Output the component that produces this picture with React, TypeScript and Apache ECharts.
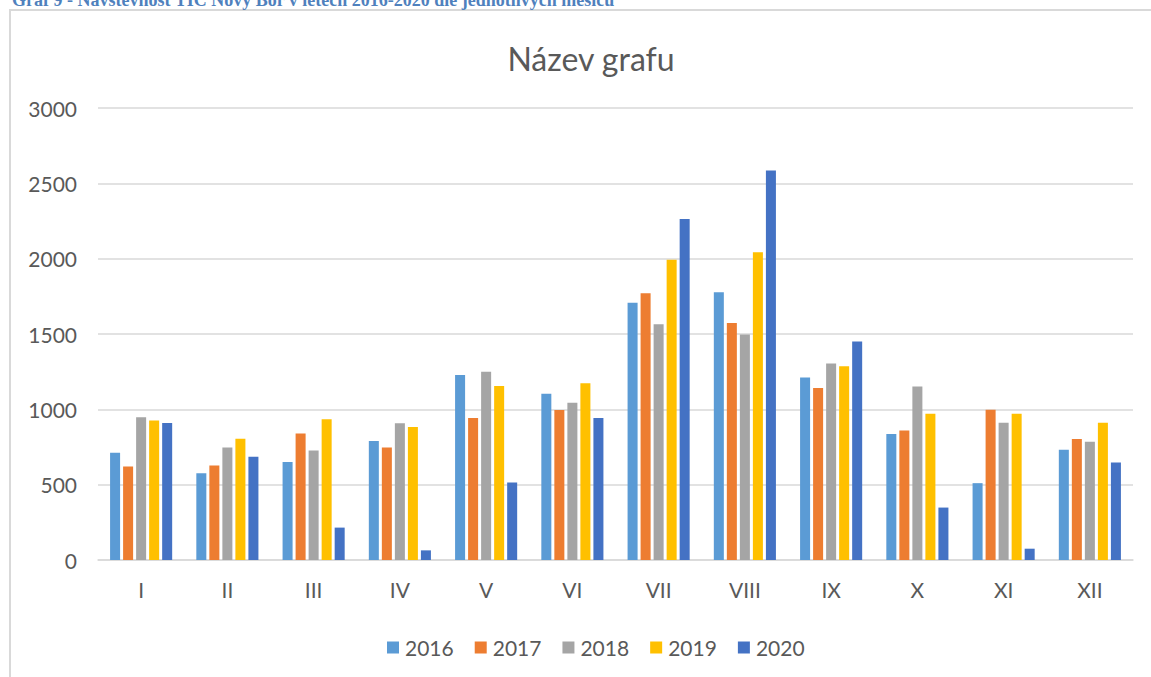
import React, { useEffect, useRef } from "react";
import * as echarts from "echarts";

const months = ["I", "II", "III", "IV", "V", "VI", "VII", "VIII", "IX", "X", "XI", "XII"];
const years = ["2016", "2017", "2018", "2019", "2020"];
const v2016 = [712, 576, 651, 789, 1228, 1104, 1708, 1777, 1211, 836, 510, 732];
const v2017 = [620, 627, 839, 746, 942, 996, 1770, 1573, 1142, 860, 998, 803];
const v2018 = [948, 746, 727, 908, 1250, 1044, 1564, 1496, 1304, 1151, 911, 785];
const v2019 = [926, 804, 934, 882, 1155, 1173, 1993, 2042, 1286, 971, 971, 911];
const v2020 = [910, 686, 215, 64, 515, 942, 2263, 2586, 1450, 348, 75, 647];
const yearValues = [v2016, v2017, v2018, v2019, v2020];
const colors = ["#5B9BD5", "#ED7D31", "#A5A5A5", "#FFC000", "#4472C4"];

const docTitle = "Graf 9 - Návštěvnost TIC Nový Bor v letech 2016-2020 dle jednotlivých měsíců";
const chartTitle = "Název grafu";

export default function App() {
  const ref = useRef<HTMLDivElement>(null);
  useEffect(() => {
    if (!ref.current) return;
    const chart = echarts.init(ref.current, null, { renderer: "svg" });
    const font = "Lato";
    chart.setOption({
      animation: false,
      backgroundColor: "#ffffff",
      color: colors,
      textStyle: { fontFamily: font },
      graphic: [
        {
          type: "rect",
          shape: { x: 10, y: 10, width: 1300, height: 800 },
          style: { fill: "none", stroke: "#D9D9D9", lineWidth: 2 },
          silent: true,
        },
        {
          type: "text",
          x: 12,
          y: 9,
          style: {
            text: docTitle,
            font: 'bold 18px "Liberation Serif"',
            fill: "#4F81BD",
            verticalAlign: "bottom",
          },
          silent: true,
        },
      ],
      title: {
        text: chartTitle,
        left: 586,
        top: 37,
        textAlign: "center",
        textStyle: { fontFamily: font, fontSize: 32, fontWeight: "normal", color: "#595959" },
      },
      legend: {
        data: years,
        left: 382,
        top: 632,
        itemWidth: 12,
        itemHeight: 12,
        itemGap: 21,
        icon: "rect",
        textStyle: { fontFamily: font, fontSize: 21, color: "#595959", padding: [0, 0, 0, 1] },
      },
      grid: { left: 98, right: 18, top: 108, bottom: 117, containLabel: false },
      xAxis: {
        type: "category",
        data: months,
        axisTick: { show: false },
        axisLine: { lineStyle: { color: "#D9D9D9", width: 1.5 } },
        axisLabel: { fontFamily: font, fontSize: 21, color: "#595959", margin: 19 },
      },
      yAxis: {
        type: "value",
        min: 0,
        max: 3000,
        interval: 500,
        axisLine: { show: false },
        axisTick: { show: false },
        splitLine: { lineStyle: { color: "#D9D9D9", width: 1.5 } },
        axisLabel: {
          fontFamily: font,
          fontSize: 21,
          color: "#595959",
          margin: 21,
          formatter: (v: number) => String(v),
        },
      },
      series: years.map((y, i) => ({
        name: y,
        type: "bar",
        data: yearValues[i],
        barGap: "30%",
        barCategoryGap: "28%",
        itemStyle: { color: colors[i] },
      })),
    });
    return () => chart.dispose();
  }, []);
  return (
    <div
      ref={ref}
      style={{ position: "absolute", left: 0, top: 0, width: 1151, height: 677 }}
    />
  );
}
